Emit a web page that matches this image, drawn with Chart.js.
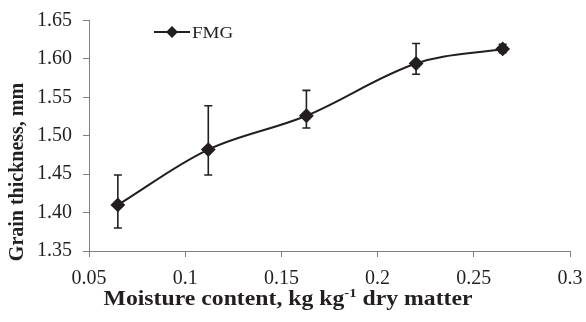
<!DOCTYPE html>
<html lang="en">
<head>
  <meta charset="UTF-8">
  <title>Grain thickness vs moisture content</title>
  <script src="https://cdn.jsdelivr.net/npm/chart.js"></script>
  <style>
    html, body { margin: 0; padding: 0; background: #fff; }
    #wrap { width: 586px; height: 322px; }
  </style>
</head>
<body>
  <div id="wrap"><canvas id="chart" width="586" height="322"></canvas></div>
  <script>
    // moisture content (kg/kg dry matter) and grain thickness (mm)
    const moisture = [0.065, 0.112, 0.163, 0.220, 0.265];
    const thickness = [1.410, 1.482, 1.526, 1.594, 1.613];
    const errHigh = [1.449, 1.539, 1.559, 1.620, 1.619];
    const errLow = [1.380, 1.449, 1.510, 1.580, 1.608];
    const xTicks = [0.05, 0.1, 0.15, 0.2, 0.25, 0.3];
    const yTicks = [1.35, 1.4, 1.45, 1.5, 1.55, 1.6, 1.65];
    const seriesName = 'FMG';

    const serif = "'Liberation Serif', 'Times New Roman', serif";
    const ink = '#231f20';

    // vertical error bars with caps
    const errorBars = {
      id: 'errorBars',
      afterDatasetsDraw(chart) {
        const { ctx, scales: { x, y } } = chart;
        ctx.save();
        ctx.strokeStyle = ink;
        ctx.lineWidth = 1.6;
        moisture.forEach((m, i) => {
          const px = x.getPixelForValue(m);
          const top = y.getPixelForValue(errHigh[i]);
          const bot = y.getPixelForValue(errLow[i]);
          ctx.beginPath();
          ctx.moveTo(px, top); ctx.lineTo(px, bot);
          ctx.moveTo(px - 4, top); ctx.lineTo(px + 4, top);
          ctx.moveTo(px - 4, bot); ctx.lineTo(px + 4, bot);
          ctx.stroke();
        });
        ctx.restore();
      }
    };

    // legend inside the plot + both axis titles (the x one has a superscript)
    const extras = {
      id: 'extras',
      afterDraw(chart) {
        const { ctx } = chart;
        ctx.save();

        // legend
        const lx = 154, ly = 32;
        ctx.strokeStyle = ink;
        ctx.lineWidth = 2;
        ctx.beginPath();
        ctx.moveTo(lx, ly); ctx.lineTo(lx + 36, ly);
        ctx.stroke();
        ctx.fillStyle = ink;
        ctx.beginPath();
        ctx.moveTo(lx + 18, ly - 6); ctx.lineTo(lx + 24, ly);
        ctx.lineTo(lx + 18, ly + 6); ctx.lineTo(lx + 12, ly);
        ctx.closePath();
        ctx.fill();
        ctx.save();
        ctx.translate(lx + 38, ly + 6);
        ctx.scale(1.12, 1);
        ctx.font = '17px ' + serif;
        ctx.fillText(chart.data.datasets[0].label, 0, 0);
        ctx.restore();

        // y title
        ctx.save();
        ctx.translate(23, 172);
        ctx.rotate(-Math.PI / 2);
        ctx.font = 'bold 20px ' + serif;
        ctx.textAlign = 'center';
        ctx.fillText('Grain thickness, mm', 0, 0);
        ctx.restore();

        // x title
        const parts = [
          { t: 'Moisture content, kg kg', f: 'bold 21px ', dy: 0 },
          { t: '-1', f: 'bold 13px ', dy: -8 },
          { t: ' dry matter', f: 'bold 21px ', dy: 0 }
        ];
        const sx = 1.13;
        let total = 0;
        parts.forEach(p => { ctx.font = p.f + serif; total += ctx.measureText(p.t).width; });
        ctx.save();
        ctx.translate(288 - total * sx / 2, 305);
        ctx.scale(sx, 1);
        let cx = 0;
        parts.forEach(p => {
          ctx.font = p.f + serif;
          ctx.fillText(p.t, cx, p.dy);
          cx += ctx.measureText(p.t).width;
        });
        ctx.restore();

        ctx.restore();
      }
    };

    new Chart(document.getElementById('chart'), {
      type: 'line',
      data: {
        datasets: [{
          label: seriesName,
          data: moisture.map((m, i) => ({ x: m, y: thickness[i] })),
          borderColor: ink,
          backgroundColor: ink,
          borderWidth: 2,
          tension: 0.35,
          pointStyle: 'rectRot',
          pointRadius: 6,
          pointHoverRadius: 6
        }]
      },
      options: {
        responsive: false,
        animation: false,
        layout: { padding: { top: 20.5, right: 16, left: 0, bottom: 0 } },
        plugins: {
          legend: { display: false },
          tooltip: { enabled: false }
        },
        scales: {
          x: {
            type: 'linear',
            min: 0.05,
            max: 0.3,
            afterFit: (s) => {
              s.height = 71;
              s.paddingLeft = 0; s.paddingRight = 0;
            },
            afterBuildTicks: (s) => { s.ticks = xTicks.map(v => ({ value: v })); },
            ticks: {
              color: ink,
              font: { family: serif, size: 20 },
              padding: 10,
              callback: (v) => String(Number(v.toFixed(2)))
            },
            grid: { drawOnChartArea: false, tickLength: 6, color: '#808080' },
            border: { color: '#808080', width: 1 }
          },
          y: {
            min: 1.35,
            max: 1.65,
            afterFit: (s) => {
              s.width = 89;
              s.paddingTop = 0; s.paddingBottom = 0;
            },
            afterBuildTicks: (s) => { s.ticks = yTicks.map(v => ({ value: v })); },
            ticks: {
              color: ink,
              font: { family: serif, size: 20 },
              padding: 11,
              callback: (v) => v.toFixed(2)
            },
            grid: { drawOnChartArea: false, tickLength: 6, color: '#808080' },
            border: { color: '#808080', width: 1 }
          }
        }
      },
      plugins: [errorBars, extras]
    });
  </script>
</body>
</html>
